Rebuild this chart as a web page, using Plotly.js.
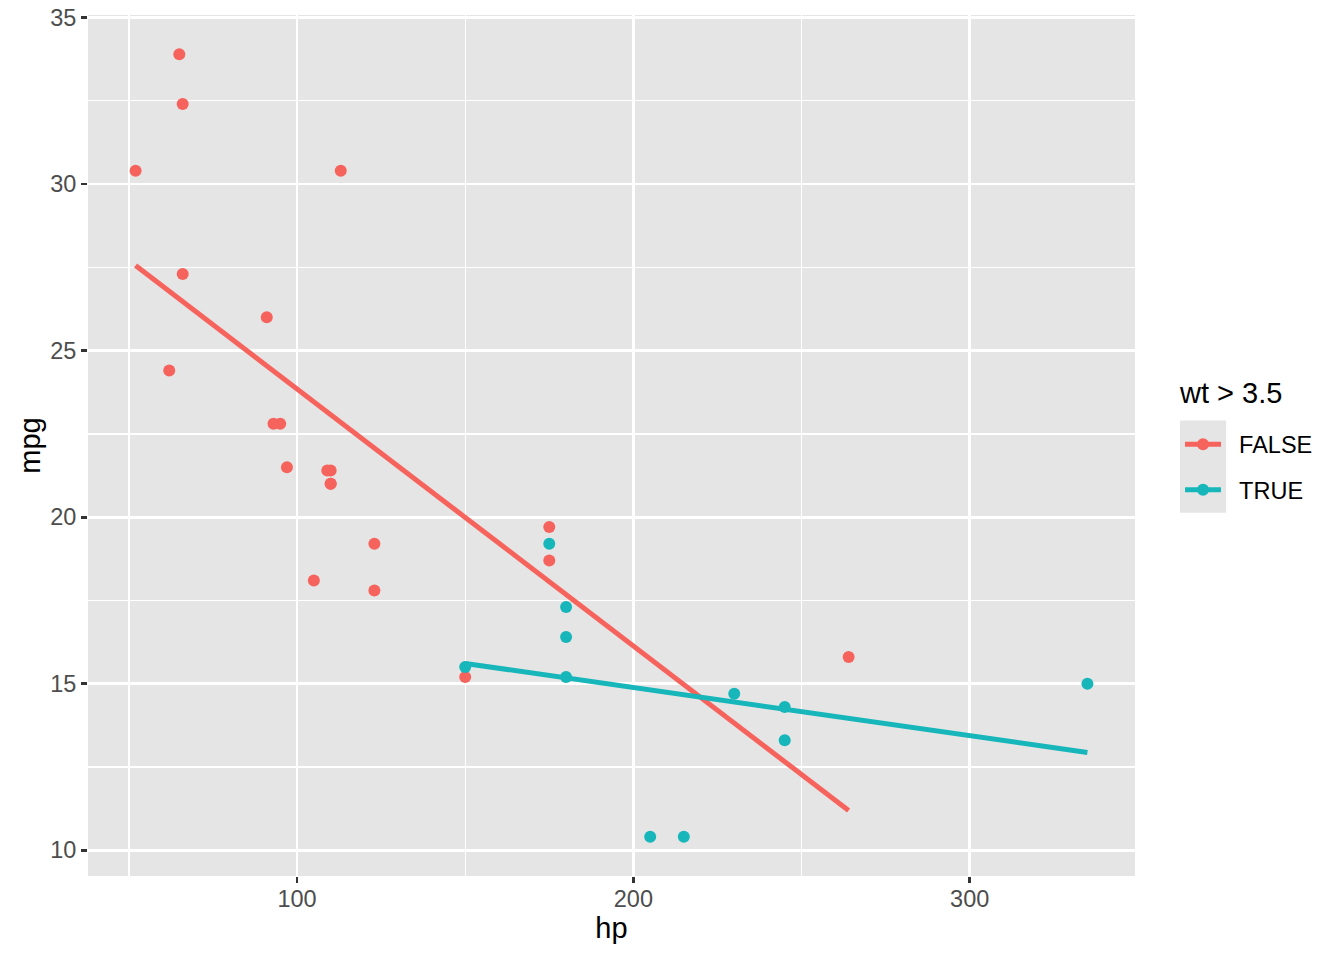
<!DOCTYPE html>
<html>
<head>
<meta charset="utf-8">
<script src="https://cdn.plot.ly/plotly-3.0.1.min.js"></script>
<style>
  html, body { margin: 0; padding: 0; background: #fff; }
  #chart { width: 1344px; height: 960px; }
</style>
</head>
<body>
<div id="chart"></div>
<script>
// mtcars: hp, mpg, wt
let hp  = [110, 110, 93, 110, 175, 105, 245, 62, 95, 123, 123, 180, 180, 180, 205, 215,
           230, 66, 52, 65, 97, 150, 150, 245, 175, 66, 91, 113, 264, 175, 335, 109];
let mpg = [21.0, 21.0, 22.8, 21.4, 18.7, 18.1, 14.3, 24.4, 22.8, 19.2, 17.8, 16.4, 17.3, 15.2, 10.4, 10.4,
           14.7, 32.4, 30.4, 33.9, 21.5, 15.5, 15.2, 13.3, 19.2, 27.3, 26.0, 30.4, 15.8, 19.7, 15.0, 21.4];
let wt  = [2.620, 2.875, 2.320, 3.215, 3.440, 3.460, 3.570, 3.190, 3.150, 3.440, 3.440, 4.070, 3.730, 3.780, 5.250, 5.424,
           5.345, 2.200, 1.615, 1.835, 2.465, 3.520, 3.435, 3.840, 3.845, 1.935, 2.140, 1.513, 3.170, 2.770, 3.570, 2.780];

let groups = ["FALSE", "TRUE"];
let colors = ["#F6635C", "#17B6BA"];

let font = 'Liberation Sans, Arial, Helvetica, sans-serif';

// linear fit (like geom_smooth(method = "lm", se = FALSE))
function fit(xs, ys) {
    let n = xs.length;
    let mx = xs.reduce((a, b) => a + b, 0) / n;
    let my = ys.reduce((a, b) => a + b, 0) / n;
    let sxy = 0, sxx = 0;
    for (let i = 0; i < n; i++) {
        sxy += (xs[i] - mx) * (ys[i] - my);
        sxx += (xs[i] - mx) * (xs[i] - mx);
    }
    let b = sxy / sxx;
    return { a: my - b * mx, b: b };
}

let data = [];
groups.forEach(function(g, k) {
    let xs = [], ys = [];
    for (let i = 0; i < hp.length; i++) {
        if ((wt[i] > 3.5 ? "TRUE" : "FALSE") === g) {
            xs.push(hp[i]);
            ys.push(mpg[i]);
        }
    }
    let f = fit(xs, ys);
    let x0 = Math.min(...xs), x1 = Math.max(...xs);

    // points
    data.push({
        x: xs, y: ys,
        type: 'scatter', mode: 'markers',
        marker: { color: colors[k], size: 12 },
        name: g, legendgroup: g, showlegend: false
    });
    // fitted line
    data.push({
        x: [x0, x1], y: [f.a + f.b * x0, f.a + f.b * x1],
        type: 'scatter', mode: 'lines',
        line: { color: colors[k], width: 5 },
        name: g, legendgroup: g, showlegend: false
    });
    // legend key (point + line); nbsp pads the gap before the label
    data.push({
        x: [null], y: [null],
        type: 'scatter', mode: 'lines+markers',
        line: { color: colors[k], width: 5 },
        marker: { color: colors[k], size: 12 },
        name: '\u00a0\u00a0' + g, legendgroup: g, showlegend: true
    });
});

let axisCommon = {
    showgrid: true, gridcolor: '#FFFFFF', gridwidth: 2.8,
    zeroline: false, showline: false,
    ticks: 'outside', ticklen: 6, tickwidth: 2.8, tickcolor: '#333333',
    tickfont: { family: font, size: 23.5, color: '#4D4D4D' }
};

let layout = {
    width: 1344, height: 960,
    margin: { l: 88, r: 209, t: 15, b: 84 },
    paper_bgcolor: '#FFFFFF',
    plot_bgcolor: '#E5E5E5',
    xaxis: Object.assign({}, axisCommon, {
        range: [37.85, 349.15],
        tickvals: [100, 200, 300],
        ticklabelstandoff: -4,
        minor: { showgrid: true, tickvals: [50, 150, 250, 350], gridcolor: '#FFFFFF', gridwidth: 1.4, ticks: '' },
        title: { text: 'hp', font: { family: font, size: 29, color: '#000' }, standoff: 6 }
    }),
    yaxis: Object.assign({}, axisCommon, {
        range: [9.225, 35.075],
        tickvals: [10, 15, 20, 25, 30, 35],
        minor: { showgrid: true, tickvals: [12.5, 17.5, 22.5, 27.5, 32.5], gridcolor: '#FFFFFF', gridwidth: 1.4, ticks: '' },
        title: { text: 'mpg', font: { family: font, size: 29, color: '#000' }, standoff: 1 }
    }),
    legend: {
        x: 1.0430, xanchor: 'left', y: 0.5267, yanchor: 'top',
        bgcolor: 'rgba(0,0,0,0)',
        font: { family: font, size: 23.5, color: '#000' },
        traceorder: 'grouped', tracegroupgap: 12, itemwidth: 36
    },
    annotations: [{
        text: 'wt > 3.5', xref: 'paper', yref: 'paper',
        x: 1.0401, y: 0.5605, xanchor: 'left', yanchor: 'middle',
        showarrow: false, font: { family: font, size: 29, color: '#000' }
    }],
    shapes: [{
        type: 'rect', xref: 'paper', yref: 'paper',
        x0: 1.043, x1: 1.087, y0: 0.422, y1: 0.529,
        fillcolor: '#E5E5E5', line: { width: 0 }, layer: 'below'
    }]
};

Plotly.newPlot('chart', data, layout, { displayModeBar: false, staticPlot: true });
</script>
</body>
</html>
